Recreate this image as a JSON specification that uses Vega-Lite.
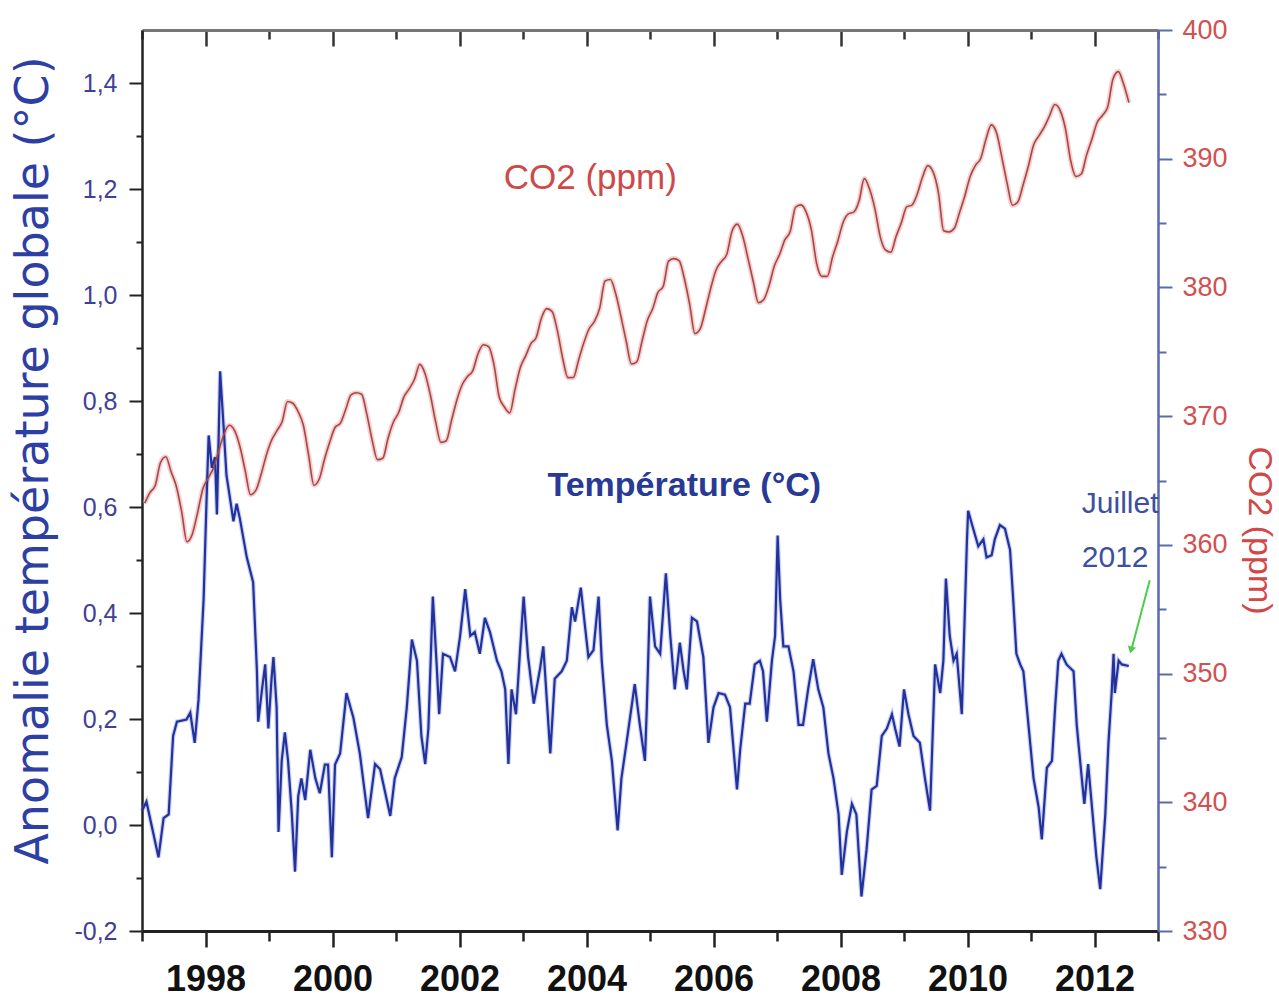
{
  "$schema": "https://vega.github.io/schema/vega-lite/v6.json",
  "width": 1016,
  "height": 901,
  "autosize": "none",
  "padding": {"left": 142, "top": 30, "right": 121, "bottom": 72},
  "background": "white",
  "config": {"view": {"stroke": null}, "font": "Liberation Sans", "axis": {"grid": false}},
  "datasets": {
    "temp": [
      {"year": 1997.0, "t": 0.027}, {"year": 1997.07, "t": 0.044}, {"year": 1997.26, "t": -0.061}, {"year": 1997.34, "t": 0.013}, {"year": 1997.42, "t": 0.02}, {"year": 1997.49, "t": 0.168}, {"year": 1997.55, "t": 0.195}, {"year": 1997.70, "t": 0.199}, {"year": 1997.76, "t": 0.212}, {"year": 1997.83, "t": 0.155}, {"year": 1997.89, "t": 0.236}, {"year": 1997.97, "t": 0.425}, {"year": 1998.02, "t": 0.627}, {"year": 1998.05, "t": 0.735}, {"year": 1998.10, "t": 0.674}, {"year": 1998.15, "t": 0.694}, {"year": 1998.18, "t": 0.586}, {"year": 1998.23, "t": 0.856}, {"year": 1998.28, "t": 0.761}, {"year": 1998.33, "t": 0.66}, {"year": 1998.39, "t": 0.613}, {"year": 1998.44, "t": 0.573}, {"year": 1998.49, "t": 0.606}, {"year": 1998.54, "t": 0.579}, {"year": 1998.65, "t": 0.505}, {"year": 1998.75, "t": 0.458}, {"year": 1998.81, "t": 0.29}, {"year": 1998.83, "t": 0.195}, {"year": 1998.89, "t": 0.256}, {"year": 1998.94, "t": 0.303}, {"year": 1998.99, "t": 0.182}, {"year": 1999.04, "t": 0.276}, {"year": 1999.07, "t": 0.317}, {"year": 1999.12, "t": 0.222}, {"year": 1999.15, "t": -0.013}, {"year": 1999.20, "t": 0.121}, {"year": 1999.25, "t": 0.175}, {"year": 1999.30, "t": 0.121}, {"year": 1999.36, "t": 0.02}, {"year": 1999.41, "t": -0.088}, {"year": 1999.46, "t": 0.054}, {"year": 1999.51, "t": 0.088}, {"year": 1999.57, "t": 0.047}, {"year": 1999.65, "t": 0.142}, {"year": 1999.73, "t": 0.088}, {"year": 1999.80, "t": 0.06}, {"year": 1999.88, "t": 0.114}, {"year": 1999.93, "t": 0.114}, {"year": 1999.99, "t": -0.061}, {"year": 2000.04, "t": 0.114},
      {"year": 2000.12, "t": 0.135}, {"year": 2000.22, "t": 0.249}, {"year": 2000.33, "t": 0.202}, {"year": 2000.43, "t": 0.135}, {"year": 2000.56, "t": 0.013}, {"year": 2000.67, "t": 0.115}, {"year": 2000.75, "t": 0.105}, {"year": 2000.91, "t": 0.017}, {"year": 2000.98, "t": 0.088}, {"year": 2001.09, "t": 0.128}, {"year": 2001.17, "t": 0.222}, {"year": 2001.25, "t": 0.35}, {"year": 2001.33, "t": 0.31}, {"year": 2001.40, "t": 0.168}, {"year": 2001.46, "t": 0.115}, {"year": 2001.51, "t": 0.182}, {"year": 2001.58, "t": 0.431}, {"year": 2001.64, "t": 0.303}, {"year": 2001.68, "t": 0.209}, {"year": 2001.74, "t": 0.323}, {"year": 2001.85, "t": 0.317}, {"year": 2001.93, "t": 0.29}, {"year": 2002.01, "t": 0.357}, {"year": 2002.09, "t": 0.445}, {"year": 2002.17, "t": 0.357}, {"year": 2002.24, "t": 0.364}, {"year": 2002.32, "t": 0.323}, {"year": 2002.40, "t": 0.391}, {"year": 2002.48, "t": 0.364}, {"year": 2002.59, "t": 0.31}, {"year": 2002.66, "t": 0.29}, {"year": 2002.72, "t": 0.256}, {"year": 2002.77, "t": 0.115}, {"year": 2002.82, "t": 0.256}, {"year": 2002.89, "t": 0.209}, {"year": 2002.95, "t": 0.323}, {"year": 2003.01, "t": 0.431}, {"year": 2003.08, "t": 0.317}, {"year": 2003.17, "t": 0.229}, {"year": 2003.27, "t": 0.296},
      {"year": 2003.32, "t": 0.337}, {"year": 2003.43, "t": 0.135}, {"year": 2003.50, "t": 0.276}, {"year": 2003.61, "t": 0.29}, {"year": 2003.69, "t": 0.31}, {"year": 2003.77, "t": 0.411}, {"year": 2003.82, "t": 0.384}, {"year": 2003.91, "t": 0.448}, {"year": 2003.98, "t": 0.371}, {"year": 2004.03, "t": 0.317}, {"year": 2004.11, "t": 0.33}, {"year": 2004.19, "t": 0.431}, {"year": 2004.24, "t": 0.31}, {"year": 2004.32, "t": 0.189}, {"year": 2004.40, "t": 0.121}, {"year": 2004.49, "t": -0.01}, {"year": 2004.55, "t": 0.088}, {"year": 2004.63, "t": 0.155}, {"year": 2004.76, "t": 0.266}, {"year": 2004.84, "t": 0.189}, {"year": 2004.92, "t": 0.121}, {"year": 2004.95, "t": 0.222}, {"year": 2005.00, "t": 0.431}, {"year": 2005.08, "t": 0.337}, {"year": 2005.16, "t": 0.323}, {"year": 2005.25, "t": 0.475}, {"year": 2005.32, "t": 0.357}, {"year": 2005.39, "t": 0.256}, {"year": 2005.47, "t": 0.344}, {"year": 2005.53, "t": 0.29}, {"year": 2005.58, "t": 0.256}, {"year": 2005.66, "t": 0.391}, {"year": 2005.74, "t": 0.384}, {"year": 2005.84, "t": 0.317}, {"year": 2005.92, "t": 0.155}, {"year": 2006.00, "t": 0.222}, {"year": 2006.08, "t": 0.249}, {"year": 2006.18, "t": 0.246}, {"year": 2006.26, "t": 0.222}, {"year": 2006.37, "t": 0.067},
      {"year": 2006.42, "t": 0.142}, {"year": 2006.50, "t": 0.229}, {"year": 2006.57, "t": 0.229}, {"year": 2006.65, "t": 0.303}, {"year": 2006.73, "t": 0.31}, {"year": 2006.78, "t": 0.29}, {"year": 2006.84, "t": 0.195}, {"year": 2006.92, "t": 0.31}, {"year": 2006.97, "t": 0.357}, {"year": 2007.01, "t": 0.546}, {"year": 2007.05, "t": 0.425}, {"year": 2007.10, "t": 0.337}, {"year": 2007.18, "t": 0.337}, {"year": 2007.26, "t": 0.29}, {"year": 2007.34, "t": 0.189}, {"year": 2007.41, "t": 0.189}, {"year": 2007.49, "t": 0.256}, {"year": 2007.57, "t": 0.313}, {"year": 2007.65, "t": 0.256}, {"year": 2007.73, "t": 0.222}, {"year": 2007.81, "t": 0.135}, {"year": 2007.89, "t": 0.088}, {"year": 2007.97, "t": 0.02}, {"year": 2008.02, "t": -0.094}, {"year": 2008.10, "t": -0.013}, {"year": 2008.18, "t": 0.04}, {"year": 2008.25, "t": 0.02}, {"year": 2008.33, "t": -0.135}, {"year": 2008.41, "t": -0.047}, {"year": 2008.49, "t": 0.067}, {"year": 2008.57, "t": 0.074}, {"year": 2008.65, "t": 0.168}, {"year": 2008.73, "t": 0.182}, {"year": 2008.81, "t": 0.209}, {"year": 2008.86, "t": 0.182}, {"year": 2008.93, "t": 0.148}, {"year": 2009.00, "t": 0.256}, {"year": 2009.07, "t": 0.209}, {"year": 2009.15, "t": 0.168}, {"year": 2009.25, "t": 0.155}, {"year": 2009.33, "t": 0.088}, {"year": 2009.41, "t": 0.027}, {"year": 2009.49, "t": 0.303}, {"year": 2009.57, "t": 0.249}, {"year": 2009.62, "t": 0.31},
      {"year": 2009.66, "t": 0.465}, {"year": 2009.72, "t": 0.357}, {"year": 2009.78, "t": 0.31}, {"year": 2009.83, "t": 0.323}, {"year": 2009.91, "t": 0.209}, {"year": 2009.99, "t": 0.532}, {"year": 2010.01, "t": 0.593}, {"year": 2010.09, "t": 0.559}, {"year": 2010.17, "t": 0.526}, {"year": 2010.25, "t": 0.539}, {"year": 2010.30, "t": 0.505}, {"year": 2010.38, "t": 0.509}, {"year": 2010.43, "t": 0.539}, {"year": 2010.51, "t": 0.566}, {"year": 2010.59, "t": 0.559}, {"year": 2010.67, "t": 0.519}, {"year": 2010.72, "t": 0.425}, {"year": 2010.77, "t": 0.323}, {"year": 2010.83, "t": 0.303}, {"year": 2010.88, "t": 0.29}, {"year": 2010.96, "t": 0.189}, {"year": 2011.04, "t": 0.088}, {"year": 2011.12, "t": 0.034}, {"year": 2011.17, "t": -0.027}, {"year": 2011.25, "t": 0.108}, {"year": 2011.33, "t": 0.121}, {"year": 2011.38, "t": 0.222}, {"year": 2011.43, "t": 0.31}, {"year": 2011.48, "t": 0.323}, {"year": 2011.56, "t": 0.303}, {"year": 2011.67, "t": 0.29}, {"year": 2011.72, "t": 0.189}, {"year": 2011.80, "t": 0.088}, {"year": 2011.84, "t": 0.04}, {"year": 2011.90, "t": 0.115}, {"year": 2011.96, "t": 0.034}, {"year": 2012.03, "t": -0.061}, {"year": 2012.09, "t": -0.121}, {"year": 2012.17, "t": 0.02}, {"year": 2012.22, "t": 0.155}, {"year": 2012.27, "t": 0.249}, {"year": 2012.30, "t": 0.323}, {"year": 2012.32, "t": 0.249}, {"year": 2012.38, "t": 0.31}, {"year": 2012.43, "t": 0.303}, {"year": 2012.54, "t": 0.30}
    ],
    "co2": [
      {"year": 1997.042, "c": 363.23}, {"year": 1997.125, "c": 364.06}, {"year": 1997.208, "c": 364.61}, {"year": 1997.292, "c": 366.4}, {"year": 1997.375, "c": 366.84}, {"year": 1997.458, "c": 365.68}, {"year": 1997.542, "c": 364.52}, {"year": 1997.625, "c": 362.57}, {"year": 1997.708, "c": 360.24}, {"year": 1997.792, "c": 360.83}, {"year": 1997.875, "c": 362.49}, {"year": 1997.958, "c": 364.34},
      {"year": 1998.042, "c": 365.18}, {"year": 1998.125, "c": 365.98}, {"year": 1998.208, "c": 367.31}, {"year": 1998.292, "c": 368.61}, {"year": 1998.375, "c": 369.29}, {"year": 1998.458, "c": 368.87}, {"year": 1998.542, "c": 367.64}, {"year": 1998.625, "c": 365.77}, {"year": 1998.708, "c": 363.9}, {"year": 1998.792, "c": 364.23}, {"year": 1998.875, "c": 365.46}, {"year": 1998.958, "c": 366.97},
      {"year": 1999.042, "c": 368.15}, {"year": 1999.125, "c": 368.87}, {"year": 1999.208, "c": 369.59}, {"year": 1999.292, "c": 371.14}, {"year": 1999.375, "c": 371.0}, {"year": 1999.458, "c": 370.35}, {"year": 1999.542, "c": 369.27}, {"year": 1999.625, "c": 366.94}, {"year": 1999.708, "c": 364.63}, {"year": 1999.792, "c": 365.12}, {"year": 1999.875, "c": 366.67}, {"year": 1999.958, "c": 368.01},
      {"year": 2000.042, "c": 369.14}, {"year": 2000.125, "c": 369.46}, {"year": 2000.208, "c": 370.52}, {"year": 2000.292, "c": 371.66}, {"year": 2000.375, "c": 371.82}, {"year": 2000.458, "c": 371.7}, {"year": 2000.542, "c": 370.12}, {"year": 2000.625, "c": 368.12}, {"year": 2000.708, "c": 366.62}, {"year": 2000.792, "c": 366.73}, {"year": 2000.875, "c": 368.29}, {"year": 2000.958, "c": 369.53},
      {"year": 2001.042, "c": 370.28}, {"year": 2001.125, "c": 371.5}, {"year": 2001.208, "c": 372.12}, {"year": 2001.292, "c": 372.87}, {"year": 2001.375, "c": 374.02}, {"year": 2001.458, "c": 373.3}, {"year": 2001.542, "c": 371.62}, {"year": 2001.625, "c": 369.55}, {"year": 2001.708, "c": 367.96}, {"year": 2001.792, "c": 368.09}, {"year": 2001.875, "c": 369.68}, {"year": 2001.958, "c": 371.24},
      {"year": 2002.042, "c": 372.44}, {"year": 2002.125, "c": 373.08}, {"year": 2002.208, "c": 373.52}, {"year": 2002.292, "c": 374.85}, {"year": 2002.375, "c": 375.55}, {"year": 2002.458, "c": 375.4}, {"year": 2002.542, "c": 374.02}, {"year": 2002.625, "c": 371.49}, {"year": 2002.708, "c": 370.71}, {"year": 2002.792, "c": 370.25}, {"year": 2002.875, "c": 372.08}, {"year": 2002.958, "c": 373.78},
      {"year": 2003.042, "c": 374.68}, {"year": 2003.125, "c": 375.63}, {"year": 2003.208, "c": 376.11}, {"year": 2003.292, "c": 377.65}, {"year": 2003.375, "c": 378.35}, {"year": 2003.458, "c": 378.13}, {"year": 2003.542, "c": 376.62}, {"year": 2003.625, "c": 374.5}, {"year": 2003.708, "c": 372.99}, {"year": 2003.792, "c": 373.0}, {"year": 2003.875, "c": 374.35}, {"year": 2003.958, "c": 375.7},
      {"year": 2004.042, "c": 376.79}, {"year": 2004.125, "c": 377.36}, {"year": 2004.208, "c": 378.39}, {"year": 2004.292, "c": 380.5}, {"year": 2004.375, "c": 380.62}, {"year": 2004.458, "c": 379.55}, {"year": 2004.542, "c": 377.76}, {"year": 2004.625, "c": 375.83}, {"year": 2004.708, "c": 374.05}, {"year": 2004.792, "c": 374.22}, {"year": 2004.875, "c": 375.84}, {"year": 2004.958, "c": 377.44},
      {"year": 2005.042, "c": 378.34}, {"year": 2005.125, "c": 379.61}, {"year": 2005.208, "c": 380.08}, {"year": 2005.292, "c": 382.05}, {"year": 2005.375, "c": 382.24}, {"year": 2005.458, "c": 382.08}, {"year": 2005.542, "c": 380.67}, {"year": 2005.625, "c": 378.67}, {"year": 2005.708, "c": 376.42}, {"year": 2005.792, "c": 376.8}, {"year": 2005.875, "c": 378.31}, {"year": 2005.958, "c": 379.96},
      {"year": 2006.042, "c": 381.37}, {"year": 2006.125, "c": 382.02}, {"year": 2006.208, "c": 382.56}, {"year": 2006.292, "c": 384.37}, {"year": 2006.375, "c": 384.92}, {"year": 2006.458, "c": 384.03}, {"year": 2006.542, "c": 382.28}, {"year": 2006.625, "c": 380.48}, {"year": 2006.708, "c": 378.81}, {"year": 2006.792, "c": 379.06}, {"year": 2006.875, "c": 380.14}, {"year": 2006.958, "c": 381.66},
      {"year": 2007.042, "c": 382.58}, {"year": 2007.125, "c": 383.71}, {"year": 2007.208, "c": 384.34}, {"year": 2007.292, "c": 386.23}, {"year": 2007.375, "c": 386.41}, {"year": 2007.458, "c": 385.87}, {"year": 2007.542, "c": 384.45}, {"year": 2007.625, "c": 381.84}, {"year": 2007.708, "c": 380.86}, {"year": 2007.792, "c": 380.86}, {"year": 2007.875, "c": 382.36}, {"year": 2007.958, "c": 383.61},
      {"year": 2008.042, "c": 385.07}, {"year": 2008.125, "c": 385.72}, {"year": 2008.208, "c": 385.85}, {"year": 2008.292, "c": 386.71}, {"year": 2008.375, "c": 388.45}, {"year": 2008.458, "c": 387.64}, {"year": 2008.542, "c": 386.1}, {"year": 2008.625, "c": 383.95}, {"year": 2008.708, "c": 382.91}, {"year": 2008.792, "c": 382.73}, {"year": 2008.875, "c": 383.96}, {"year": 2008.958, "c": 385.02},
      {"year": 2009.042, "c": 386.26}, {"year": 2009.125, "c": 386.39}, {"year": 2009.208, "c": 387.24}, {"year": 2009.292, "c": 388.58}, {"year": 2009.375, "c": 389.46}, {"year": 2009.458, "c": 388.98}, {"year": 2009.542, "c": 387.37}, {"year": 2009.625, "c": 384.4}, {"year": 2009.708, "c": 384.31}, {"year": 2009.792, "c": 384.59}, {"year": 2009.875, "c": 385.83}, {"year": 2009.958, "c": 387.11},
      {"year": 2010.042, "c": 388.62}, {"year": 2010.125, "c": 389.49}, {"year": 2010.208, "c": 390.02}, {"year": 2010.292, "c": 391.53}, {"year": 2010.375, "c": 392.63}, {"year": 2010.458, "c": 392.0}, {"year": 2010.542, "c": 390.09}, {"year": 2010.625, "c": 388.06}, {"year": 2010.708, "c": 386.38}, {"year": 2010.792, "c": 386.63}, {"year": 2010.875, "c": 387.95}, {"year": 2010.958, "c": 389.41},
      {"year": 2011.042, "c": 391.09}, {"year": 2011.125, "c": 391.78}, {"year": 2011.208, "c": 392.45}, {"year": 2011.292, "c": 393.34}, {"year": 2011.375, "c": 394.21}, {"year": 2011.458, "c": 393.75}, {"year": 2011.542, "c": 392.34}, {"year": 2011.625, "c": 389.84}, {"year": 2011.708, "c": 388.62}, {"year": 2011.792, "c": 388.81}, {"year": 2011.875, "c": 390.28}, {"year": 2011.958, "c": 391.5},
      {"year": 2012.042, "c": 392.81}, {"year": 2012.125, "c": 393.36}, {"year": 2012.208, "c": 394.02}, {"year": 2012.292, "c": 396.21}, {"year": 2012.375, "c": 396.77}, {"year": 2012.458, "c": 395.8}, {"year": 2012.542, "c": 394.36}
    ]
  },
  "layer": [
    {
      "data": {"name": "co2"},
      "mark": {"type": "line", "color": "#eaa2a2", "strokeWidth": 5, "opacity": 0.5, "interpolate": "monotone"},
      "encoding": {
        "x": {"field": "year", "type": "quantitative", "scale": {"domain": [1997, 2013], "nice": false, "zero": false}, "axis": null},
        "y": {"field": "c", "type": "quantitative", "scale": {"domain": [330, 400], "nice": false, "zero": false}, "axis": null}
      }
    },
    {
      "data": {"name": "temp"},
      "mark": {"type": "line", "color": "#6a7ce0", "strokeWidth": 4.5, "opacity": 0.35},
      "encoding": {
        "x": {"field": "year", "type": "quantitative", "scale": {"domain": [1997, 2013], "nice": false, "zero": false}, "axis": null},
        "y": {"field": "t", "type": "quantitative", "scale": {"domain": [-0.2, 1.5], "nice": false, "zero": false}, "axis": null}
      }
    },
    {
      "data": {"name": "temp"},
      "mark": {"type": "line", "color": "#22329a", "strokeWidth": 2.2},
      "encoding": {
        "x": {"field": "year", "type": "quantitative", "scale": {"domain": [1997, 2013], "nice": false, "zero": false},
          "axis": {"orient": "bottom", "title": null, "values": [1997, 1998, 1999, 2000, 2001, 2002, 2003, 2004, 2005, 2006, 2007, 2008, 2009, 2010, 2011, 2012, 2013],
            "labelExpr": "datum.value % 2 == 0 ? '' + datum.value : ''",
            "tickSize": {"condition": {"test": "datum.value % 2 == 0", "value": 16}, "value": 10},
            "tickColor": "#222", "tickWidth": 2.5, "domainColor": "#222", "domainWidth": 3,
            "labelFont": "Liberation Sans", "labelFontWeight": "bold", "labelFontSize": 36, "labelColor": "#111",
            "labelPadding": 15, "labelFlush": false, "labelOverlap": false}},
        "y": {"field": "t", "type": "quantitative", "scale": {"domain": [-0.2, 1.5], "nice": false, "zero": false},
          "axis": {"orient": "left", "title": "Anomalie température globale (°C)",
            "values": [-0.2, -0.1, 0, 0.1, 0.2, 0.3, 0.4, 0.5, 0.6, 0.7, 0.8, 0.9, 1.0, 1.1, 1.2, 1.3, 1.4],
            "labelExpr": "abs(round(datum.value * 10)) % 2 == 0 ? (datum.value < 0 ? '-' : '') + replace(format(abs(datum.value), '.1f'), /[.]/, ',') : ''",
            "tickSize": {"condition": {"test": "abs(round(datum.value * 10)) % 2 == 0", "value": 13}, "value": 6},
            "tickColor": "#222", "tickWidth": 2, "domainColor": "#222", "domainWidth": 2.5,
            "labelFontSize": 25, "labelColor": "#404098", "labelPadding": 12, "labelOverlap": false, "labelFlush": false,
            "titleFont": "DejaVu Sans", "titleFontSize": 46, "titleFontWeight": "normal", "titleColor": "#2e3fa3",
            "titleX": -95, "titleY": 430, "titleAngle": -90, "titleAlign": "center", "titleBaseline": "alphabetic"}}
      }
    },
    {
      "data": {"name": "co2"},
      "mark": {"type": "line", "color": "#a84646", "strokeWidth": 1.6, "interpolate": "monotone"},
      "encoding": {
        "x": {"field": "year", "type": "quantitative", "scale": {"domain": [1997, 2013], "nice": false, "zero": false},
          "axis": {"orient": "top", "title": null, "labels": false, "values": [1997, 1998, 1999, 2000, 2001, 2002, 2003, 2004, 2005, 2006, 2007, 2008, 2009, 2010, 2011, 2012, 2013],
            "tickSize": {"condition": {"test": "datum.value % 2 == 0", "value": -16}, "value": -9},
            "tickColor": "#333", "tickWidth": 2.5, "domainColor": "#777", "domainWidth": 3}},
        "y": {"field": "c", "type": "quantitative", "scale": {"domain": [330, 400], "nice": false, "zero": false},
          "axis": {"orient": "right", "title": "CO2 (ppm)",
            "values": [330, 335, 340, 345, 350, 355, 360, 365, 370, 375, 380, 385, 390, 395, 400],
            "labelExpr": "datum.value % 10 == 0 ? '' + datum.value : ''",
            "tickSize": {"condition": {"test": "datum.value % 10 == 0", "value": 14}, "value": 8},
            "tickColor": "#5a6ab0", "tickWidth": 2, "domainColor": "#5a6ab0", "domainWidth": 2.5,
            "labelFontSize": 27, "labelColor": "#d25050", "labelPadding": 10, "labelOverlap": false, "labelFlush": false,
            "titleFontSize": 34, "titleFontWeight": "normal", "titleColor": "#d04848",
            "titleX": 90, "titleY": 500, "titleAngle": 90, "titleAlign": "center", "titleBaseline": "alphabetic"}}
      }
    },
    {
      "data": {"values": [{"x": 2004.06, "y": 1.2, "label": "CO2 (ppm)"}]},
      "mark": {"type": "text", "fontSize": 35, "color": "#cc4a4a", "align": "center", "baseline": "alphabetic"},
      "encoding": {
        "x": {"field": "x", "type": "quantitative", "scale": {"domain": [1997, 2013], "nice": false, "zero": false}, "axis": null},
        "y": {"field": "y", "type": "quantitative", "scale": {"domain": [-0.2, 1.5], "nice": false, "zero": false}, "axis": null},
        "text": {"field": "label"}
      }
    },
    {
      "data": {"values": [{"x": 2005.54, "y": 0.621, "label": "Température (°C)"}]},
      "mark": {"type": "text", "fontSize": 34, "fontWeight": "bold", "color": "#283a94", "align": "center", "baseline": "alphabetic"},
      "encoding": {
        "x": {"field": "x", "type": "quantitative", "scale": {"domain": [1997, 2013], "nice": false, "zero": false}, "axis": null},
        "y": {"field": "y", "type": "quantitative", "scale": {"domain": [-0.2, 1.5], "nice": false, "zero": false}, "axis": null},
        "text": {"field": "label"}
      }
    },
    {
      "data": {"values": [{"x": 2011.8, "y": 0.589, "label": "Juillet"}, {"x": 2011.8, "y": 0.487, "label": "2012"}]},
      "mark": {"type": "text", "fontSize": 30, "color": "#3d4f9f", "align": "left", "baseline": "alphabetic"},
      "encoding": {
        "x": {"field": "x", "type": "quantitative", "scale": {"domain": [1997, 2013], "nice": false, "zero": false}, "axis": null},
        "y": {"field": "y", "type": "quantitative", "scale": {"domain": [-0.2, 1.5], "nice": false, "zero": false}, "axis": null},
        "text": {"field": "label"}
      }
    },
    {
      "data": {"values": [{"x": 2012.87, "y": 0.462, "x2": 2012.58, "y2": 0.33}]},
      "mark": {"type": "rule", "color": "#4ccc4c", "strokeWidth": 2},
      "encoding": {
        "x": {"field": "x", "type": "quantitative", "scale": {"domain": [1997, 2013], "nice": false, "zero": false}, "axis": null},
        "y": {"field": "y", "type": "quantitative", "scale": {"domain": [-0.2, 1.5], "nice": false, "zero": false}, "axis": null},
        "x2": {"field": "x2"},
        "y2": {"field": "y2"}
      }
    },
    {
      "data": {"values": [{"x": 2012.575, "y": 0.33}]},
      "mark": {"type": "point", "shape": "triangle-up", "angle": 195, "size": 70, "filled": true, "color": "#4ccc4c", "opacity": 1},
      "encoding": {
        "x": {"field": "x", "type": "quantitative", "scale": {"domain": [1997, 2013], "nice": false, "zero": false}, "axis": null},
        "y": {"field": "y", "type": "quantitative", "scale": {"domain": [-0.2, 1.5], "nice": false, "zero": false}, "axis": null}
      }
    }
  ],
  "resolve": {"scale": {"y": "independent"}, "axis": {"x": "independent", "y": "independent"}}
}
